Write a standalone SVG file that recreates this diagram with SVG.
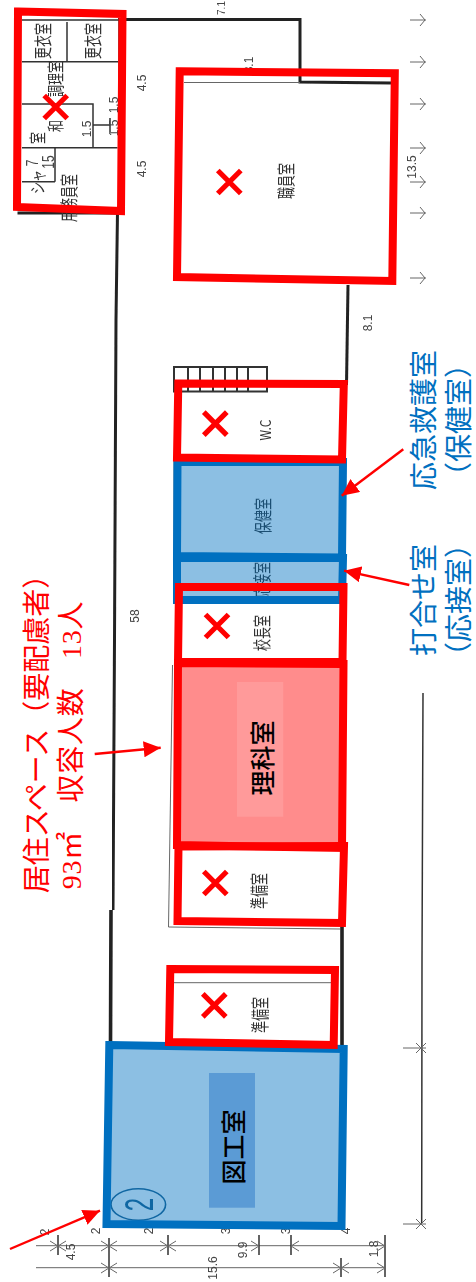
<svg xmlns="http://www.w3.org/2000/svg" width="476" height="1282" viewBox="0 0 476 1282">
<defs>
<marker id="ah" markerUnits="userSpaceOnUse" markerWidth="18" markerHeight="16" refX="17" refY="8" orient="auto"><path d="M0,0L17,8L0,16Z" fill="#f00"/></marker>
<filter id="soft" x="-5%" y="-5%" width="110%" height="110%"><feGaussianBlur stdDeviation="0.4"/></filter>
<g id="x"><path d="M-11.500,-11.500L11.500,11.500M11.500,-11.500L-11.500,11.500" fill="none" stroke="#f00" stroke-width="5.200"/></g>
</defs>
<style>
.wall{fill:none;stroke:#222;stroke-width:3}
.heavy{fill:none;stroke:#222;stroke-width:3.600}
.thin{fill:none;stroke:#666;stroke-width:1}
.mid{fill:none;stroke:#333;stroke-width:1.500}
.stair{fill:none;stroke:#333;stroke-width:2}
.room{font-family:"Noto Sans CJK JP",sans-serif;font-size:12px;fill:#333;text-anchor:middle}
.dim{font-family:"Liberation Sans",sans-serif;font-size:12px;fill:#444;text-anchor:middle}
.big{font-family:"Liberation Serif","Noto Sans CJK JP",serif;font-size:28px;text-anchor:middle}
.lab{font-family:"Noto Sans CJK JP",sans-serif;font-size:25px;fill:#000;text-anchor:middle;font-weight:500}
.rbox{fill:none;stroke:#f00;stroke-width:8}
.bbox{stroke:#0070c0;stroke-width:8;fill:#0070c0;fill-opacity:.45}
.arr{fill:none;stroke:#f00;stroke-width:2.400;marker-end:url(#ah)}
</style>
<rect width="476" height="1282" fill="#fff"/>
<g id="plan" filter="url(#soft)">
<path class="wall" d="M118,19.500H300V82L391,83"/>
<path class="wall" d="M117.500,212L116,320L114.500,640L113,910"/>
<path class="heavy" d="M111,910L110.500,1045M342,925V1047"/>
<path class="wall" d="M348,285L346.500,385"/>
<path class="wall" d="M17.500,213H118"/>
<path class="mid" d="M22,20H119V212M22,61.700H118M67,22V61.700M22,104H93V147.700M22,147.700H117.500M55,147.700V181.700M22,181.700H55M93,125H110V118M110,125V132"/>
<path class="stair" d="M174,367H267V391.500H174ZM188,367V391M200,367V391M213,367V391M225,367V391M237,367V391M248,367V391"/>
<path class="thin" d="M172.500,665L168.500,927L340,929M174,461V600M184,82.500H300M174,982.700H331"/>
<g class="dims">
<path class="thin" d="M410,20H426M410,62H426M410,104H426M410,148H426M410,182H426M410,213H426M410,278H426"/>
<path class="thin" d="M420,14L425,20L420,26M420,56L425,62L420,68M420,98L425,104L420,110M420,142L425,148L420,154M420,176L425,182L420,188M420,207L425,213L420,219M420,272L425,278L420,284"/>
<path class="mid" d="M423,693L422,960L421.700,1223"/>
<path class="thin" d="M403,1048H426M403,1224H426M416,1043L426,1053M416,1053L426,1043M416,1219L426,1229M416,1229L426,1219"/>
<path class="thin" d="M36,1245.700H385M36,1267.700H385"/>
<path class="mid" d="M58,1235V1255M109,1238V1277M168,1235V1255M259,1235V1255M291,1235V1255M385,1235V1277M341,1258V1277"/>
<path class="thin" d="M50,1241L58,1246L50,1251M66,1241L58,1246L66,1251M101,1241L109,1246L101,1251M117,1241L109,1246L117,1251M160,1241L168,1246L160,1251M176,1241L168,1246L176,1251M251,1241L259,1246L251,1251M299,1241L291,1246L299,1251M377,1241L385,1246L377,1251M101,1263L109,1268L101,1273M117,1263L109,1268L117,1273M333,1263L341,1268L333,1273M349,1263L341,1268L349,1273M377,1263L385,1268L377,1273"/>
</g>
<ellipse cx="138.300" cy="1204.500" rx="27.300" ry="15.800" fill="none" stroke="#1f5f8a" stroke-width="1.600"/>
<text transform="translate(153,1204.500) rotate(-90) scale(1,1.700)" style="font-family:'Liberation Sans',sans-serif;font-size:24px;fill:#1f5f8a;text-anchor:middle">2</text>
<text class="room" transform="translate(50,41) rotate(-90) scale(1,1.500)">更衣室</text>
<text class="room" transform="translate(100,41) rotate(-90) scale(1,1.500)">更衣室</text>
<text class="room" transform="translate(62,79) rotate(-90) scale(1,1.400)">調理室</text>
<text class="room" transform="translate(62,126) rotate(-90) scale(1,1.400)">和</text>
<text class="room" transform="translate(44,138) rotate(-90) scale(1,1.400)">室</text>
<text class="room" transform="translate(76,198) rotate(-90) scale(1,1.500)">用務員室</text>
<text class="room" transform="translate(44,182) rotate(-90) scale(1,1.400)">シャ</text>
<text class="dim" transform="translate(38,163) rotate(-90) scale(1,1.300)">7</text>
<text class="dim" transform="translate(54,162) rotate(-90) scale(1,1.300)">15</text>
<text class="room" transform="translate(293,181) rotate(-90) scale(1,1.500)">職員室</text>
<text class="room" transform="translate(271,430) rotate(-90) scale(1,1.200)">W.C</text>
<text class="room" transform="translate(270,516) rotate(-90) scale(1,1.500)">保健室</text>
<text class="room" transform="translate(269,580) rotate(-90) scale(1,1.500)">応接室</text>
<text class="room" transform="translate(269,633) rotate(-90) scale(1,1.500)">校長室</text>
<text class="room" transform="translate(266,891) rotate(-90) scale(1,1.500)">準備室</text>
<text class="room" transform="translate(267,1015) rotate(-90) scale(1,1.500)">準備室</text>
<text class="dim" transform="translate(146,83) rotate(-90)">4.5</text>
<text class="dim" transform="translate(146,169) rotate(-90)">4.5</text>
<text class="dim" transform="translate(118,105) rotate(-90)">1.5</text>
<text class="dim" transform="translate(118,128) rotate(-90)">1.5</text>
<text class="dim" transform="translate(91,129) rotate(-90)">1.5</text>
<text class="dim" transform="translate(416,167) rotate(-90)">13.5</text>
<text class="dim" style="font-size:10px" transform="translate(225,8) rotate(-90)">7.1</text>
<text class="dim" transform="translate(253,65) rotate(-90)">8.1</text>
<text class="dim" transform="translate(372,323) rotate(-90)">8.1</text>
<text class="dim" transform="translate(139,616) rotate(-90)">58</text>
<text class="dim" transform="translate(75,1252) rotate(-90)">4.5</text>
<text class="dim" transform="translate(247,1250) rotate(-90)">9.9</text>
<text class="dim" transform="translate(378,1249) rotate(-90)">1.8</text>
<text class="dim" transform="translate(217,1268) rotate(-90)">15.6</text>
<text class="dim" transform="translate(49,1232) rotate(-90)">2</text>
<text class="dim" transform="translate(100,1231) rotate(-90)">2</text>
<text class="dim" transform="translate(153,1231) rotate(-90)">2</text>
<text class="dim" transform="translate(230,1231) rotate(-90)">3</text>
<text class="dim" transform="translate(290,1231) rotate(-90)">3</text>
<text class="dim" transform="translate(350,1231) rotate(-90)">4</text>
</g>
<g id="node-zukoshitsu">
<polygon class="bbox" points="109.300,1045 343.700,1049 341.500,1226 106.500,1224"/>
<rect x="209" y="1073" width="46" height="134.700" fill="#5b9bd5"/>
<text class="lab" transform="translate(243,1147) rotate(-90)">図工室</text>
</g>
<g id="node-hokenshitsu"><polygon class="bbox" points="177.500,462 343,462 342,557.500 177,556"/></g>
<g id="node-osetsushitsu"><polygon class="bbox" points="177,558 343,558 342,600 177,600"/></g>
<g id="node-rikashitsu">
<polygon points="178,663 343.500,664 342,848 177,845" fill="#f00" fill-opacity=".45"/>
<rect x="237" y="682" width="46.300" height="134.700" fill="#ff9a9a"/>
<text class="lab" transform="translate(272,758) rotate(-90)">理科室</text>
</g>
<g id="node-kocho"><polygon class="rbox" points="179,587 343.500,587 342.500,662 178,662"/><use href="#x" x="217" y="626"/></g>
<g id="node-rika-frame"><polygon class="rbox" points="178,663 343.500,664 342,848 177,845"/></g>
<g id="node-wc"><polygon class="rbox" points="178.300,383.500 343.800,384 342,459.500 177,457.500"/><use href="#x" x="215.300" y="423.700"/></g>
<g id="node-junbi1"><polygon class="rbox" points="178.500,846.500 344,846 342,923 177.500,921"/><use href="#x" x="215.300" y="883"/></g>
<g id="node-junbi2"><polygon class="rbox" points="170.300,969 335,970 333.700,1045 169,1042"/><use href="#x" x="214.300" y="1005.300"/></g>
<g id="node-shokuin"><polygon class="rbox" points="179.700,71.300 394.800,73.300 392.300,281 177,277"/><use href="#x" x="229.300" y="182"/></g>
<g id="node-yomuin"><polygon class="rbox" points="18,11.500 122.500,14 121,211 17,207"/><use href="#x" x="55.700" y="107"/></g>
<rect x="0" y="540" width="112" height="370" fill="#fff"/>
<g id="labels">
<text class="big" fill="#f00" transform="translate(47,727) rotate(-90)">居住スペース（要配慮者）</text>
<text class="big" fill="#f00" letter-spacing=".7" transform="translate(81,745) rotate(-90)">93㎡　収容人数　13人</text>
<text class="big" fill="#0070c0" transform="translate(434,420) rotate(-90)">応急救護室</text>
<text class="big" fill="#0070c0" transform="translate(469,420) rotate(-90)">（保健室）</text>
<text class="big" fill="#0070c0" transform="translate(434,600) rotate(-90)">打合せ室</text>
<text class="big" fill="#0070c0" transform="translate(469,600) rotate(-90)">（応接室）</text>
</g>
<g id="connectors">
<path class="arr" d="M403.300,449.300L341.700,495.700"/>
<path class="arr" d="M409.300,585L344,570.700"/>
<path class="arr" d="M94.700,754L160.700,747.700"/>
<path class="arr" d="M10,1249L100,1210.700"/>
</g>
</svg>
